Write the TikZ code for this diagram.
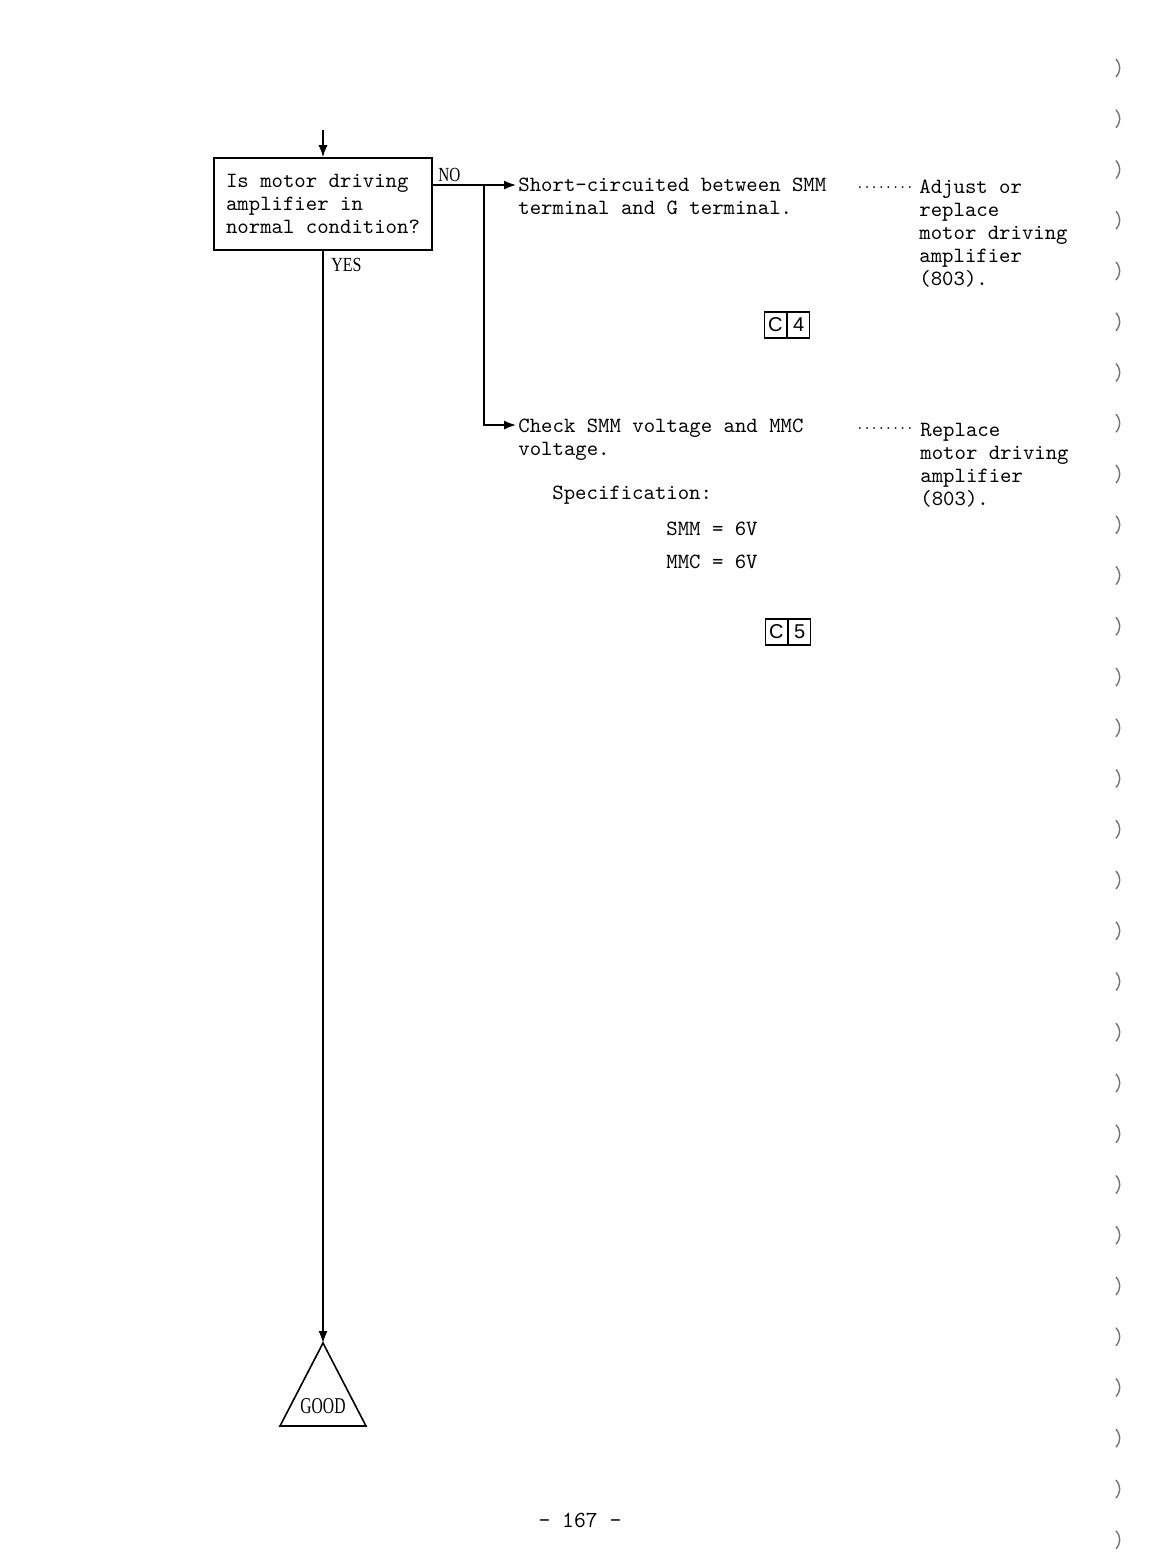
\documentclass[tikz,border=0pt]{standalone}
\usepackage{fontspec}
\newfontfamily\lserif{Liberation Serif}
\newfontfamily\lsans{Liberation Sans}
\usetikzlibrary{arrows.meta}
\begin{document}
\begin{tikzpicture}[x=0.5pt,y=-0.5pt,
  tt/.style={font=\fontsize{10.86}{11.4}\selectfont\ttfamily, inner sep=0pt, align=left, anchor=north west},
  arr/.style={-{Latex[length=6pt,width=4.6pt]}},
  ln/.style={line width=0.8pt},
  cell/.style={draw, line width=0.6pt, minimum width=11pt, minimum height=13pt, inner sep=0pt, font=\lsans\fontsize{10}{12}\selectfont},
  lbl/.style={font=\lserif\fontsize{10}{12}\selectfont, inner sep=0pt, anchor=base west},
  leader/.style={font=\ttfamily\bfseries\fontsize{6.8}{8}\selectfont, inner sep=0pt, anchor=base west}
]
\useasboundingbox[fill=white] (0,0) rectangle (1168,1560);

% question box
\node[draw, ln, minimum width=109pt, minimum height=46pt, align=left, inner sep=0pt,
      font=\fontsize{10.86}{11.4}\selectfont\ttfamily] (q) at (323,204)
  {Is motor driving\\amplifier in\\normal condition?};
\coordinate (top) at (323,130);
\draw[ln, arr] (top) -- (q.north);

\node[lbl] (no) at (438,181) {\scalebox{0.76}[1]{NO}};
\node[lbl] (yes) at (331,271) {\scalebox{0.8}[1]{YES}};

% NO branch
\coordinate (lvl1) at (0,185);
\coordinate (nostart) at (q.east |- lvl1);
\coordinate (br) at (484,185);
\coordinate (t1) at (516,185);
\coordinate (t2) at (516,425);
\draw[ln, arr] (nostart) -- (t1);
\draw[ln, arr] (br) |- (t2);

\node[tt] (sc) at (518,178) {Short-circuited between SMM\\terminal and G terminal.};
\node[leader] (d1) at (856,188) {........};
\node[tt] (adj) at (919,180) {Adjust or\\replace\\motor driving\\amplifier\\(803).};
\node[cell, anchor=east] (c4c) at (787,325) {C};
\node[cell, anchor=west] (c4n) at (787,325) {4};

\node[tt] (chk) at (518,419) {Check SMM voltage and MMC\\voltage.};
\node[tt] (spec) at (552,486) {Specification:};
\node[tt] (smm) at (666,522) {SMM = 6V};
\node[tt] (mmc) at (666,555) {MMC = 6V};
\node[leader] (d2) at (856,429) {........};
\node[tt] (rep) at (920,423) {Replace\\motor driving\\amplifier\\(803).};
\node[cell, anchor=east] (c5c) at (788,632) {C};
\node[cell, anchor=west] (c5n) at (788,632) {5};

% YES branch to GOOD
\coordinate (apex) at (323,1343);
\draw[ln, arr] (q.south) -- (apex);
\draw[ln] (apex) -- (366,1426) -- (280,1426) -- cycle;
\node[font=\lserif\fontsize{11.3}{13}\selectfont, inner sep=0pt] (good) at (323,1406) {\scalebox{0.69}[1]{GOOD}};

% page number
\node[font=\fontsize{11.5}{13}\selectfont\ttfamily, inner sep=0pt] (page) at (580,1520) {- 167 -};

% binding marks
\foreach \i in {0,...,29} {
  \pgfmathsetmacro\yy{68+50.75*\i}
  \draw[black!55, line width=0.7pt] (1116,\yy-9) .. controls (1121,\yy-3) and (1121,\yy+3) .. (1116,\yy+9);
}
\end{tikzpicture}
\end{document}
